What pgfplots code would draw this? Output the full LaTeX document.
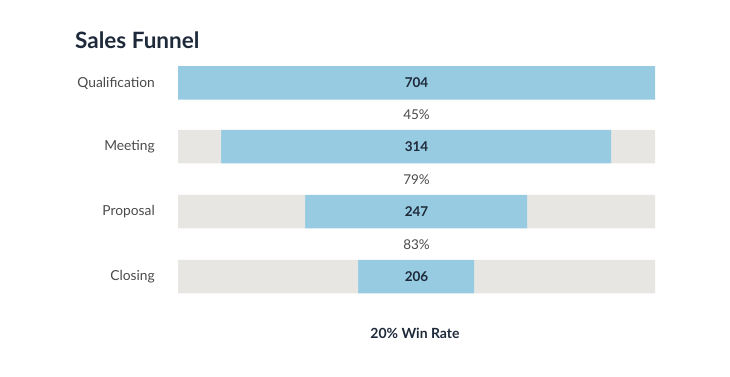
\documentclass[border=0pt]{standalone}
\usepackage{pgfplots}
\pgfplotsset{compat=1.18}
\usepackage{pgfplotstable}
\usepackage{fontspec}
\setmainfont{Lato}
\definecolor{fblue}{HTML}{96CBE2}
\definecolor{fgray}{HTML}{E8E6E3}
\definecolor{fdark}{HTML}{1E2A3A}
\definecolor{flabel}{HTML}{4A4A4A}

% bar segments (pixel-like units): invisible offset, left gray, blue, right gray
\pgfplotstableread{
y off lgray blue rgray
83 178 0 477 0
146.5 178 43 390 44
211.5 178 127 222 128
276.5 178 180 116 181
}\bars

\pgfplotstableread[col sep=comma]{
x,y,label
416.5,83,704
416.5,146.5,314
416.5,211.5,247
416.5,276.5,206
}\vals

\pgfplotstableread[col sep=comma]{
x,y,label
416.5,114.5,45\%
416.5,179.5,79\%
416.5,244.5,83\%
}\rates

\pgfplotstableread[col sep=comma]{
x,y,label
155,83,Qualification
155,146.5,Meeting
155,211.5,Proposal
155,276.5,Closing
}\stages

\pgfplotsset{base/.style={width=730pt,height=377pt,scale only axis,
  xmin=0,xmax=730,ymin=0,ymax=377,y dir=reverse,hide axis,clip=false}}

\begin{document}
\begin{tikzpicture}
\begin{axis}[base, xbar stacked, bar width=33.5]
\path (rel axis cs:0,0) rectangle (rel axis cs:1,1);
\addplot[draw=none,fill=none] table[x=off,y=y]{\bars};
\addplot[draw=none,fill=fgray] table[x=lgray,y=y]{\bars};
\addplot[draw=none,fill=fblue] table[x=blue,y=y]{\bars};
\addplot[draw=none,fill=fgray] table[x=rgray,y=y]{\bars};
\end{axis}
\begin{axis}[base,
  lbl/.style={only marks, mark=*, mark size=0pt, mark options={draw=none,fill=none},
    nodes near coords, point meta=explicit symbolic}]
\path (rel axis cs:0,0) rectangle (rel axis cs:1,1);
\addplot[lbl, every node near coord/.append style={anchor=center,inner sep=0pt,
   text=fdark,font=\fontsize{13.5}{15}\selectfont\bfseries}]
  table[x=x,y=y,meta=label]{\vals};
\addplot[lbl, every node near coord/.append style={anchor=center,inner sep=0pt,
   text=flabel,font=\fontsize{13.5}{15}\selectfont}]
  table[x=x,y=y,meta=label]{\rates};
\addplot[lbl, every node near coord/.append style={anchor=east,inner sep=0pt,
   text=flabel,font=\fontsize{13.8}{15}\selectfont}]
  table[x=x,y=y,meta=label]{\stages};
\node[anchor=west,inner sep=0pt,text=fdark,font=\fontsize{22.5}{26}\selectfont\bfseries]
  at (axis cs:75,40) {Sales Funnel};
\node[anchor=center,inner sep=0pt,text=fdark,font=\fontsize{14}{16}\selectfont\bfseries]
  at (axis cs:415,333) {20\% Win Rate};
\end{axis}
\end{tikzpicture}
\end{document}
